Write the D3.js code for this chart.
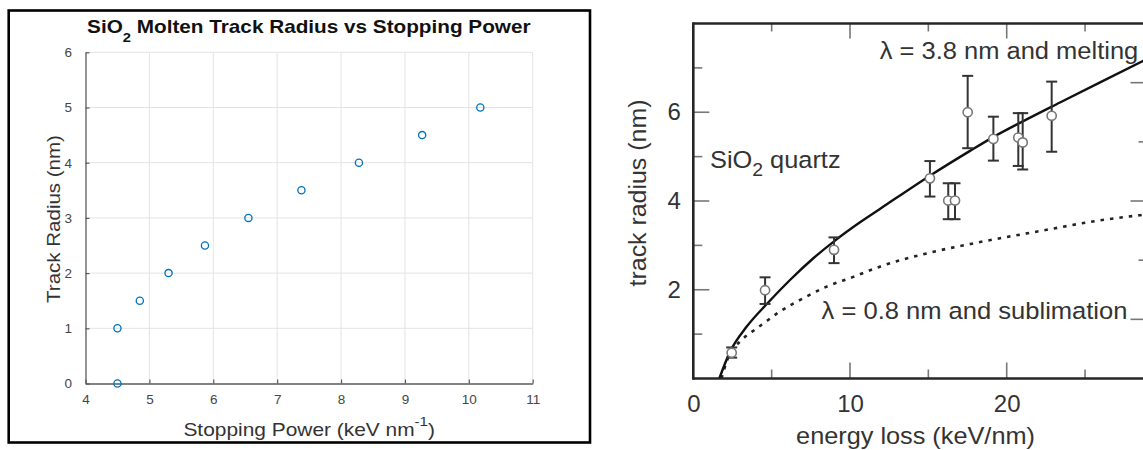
<!DOCTYPE html>
<html><head><meta charset="utf-8">
<script src="https://cdn.jsdelivr.net/npm/d3@7"></script>
<style>
html,body{margin:0;padding:0;background:#fff;}
svg{display:block;font-family:"Liberation Sans",Arial,Helvetica,sans-serif;}
</style></head>
<body>
<svg id="c" width="1143" height="450"></svg>
<script>
// ---------- LEFT PANEL DATA (MATLAB scatter) ----------
const leftStopping = [4.5, 4.5, 4.85, 5.3, 5.87, 6.55, 7.38, 8.28, 9.27, 10.18];
const leftRadius   = [0, 1, 1.5, 2, 2.5, 3, 3.5, 4, 4.5, 5];
const leftXTicks = [4, 5, 6, 7, 8, 9, 10, 11];
const leftYTicks = [0, 1, 2, 3, 4, 5, 6];

// ---------- RIGHT PANEL DATA (scanned figure) ----------
const expEnergy = [2.45, 4.58, 8.98, 15.1, 16.27, 16.7, 17.51, 19.15, 20.74, 21.02, 22.87];
const expRadius = [0.58, 1.99, 2.90, 4.51, 4.01, 4.01, 6.0, 5.40, 5.43, 5.32, 5.92];
const expLow    = [0.47, 1.68, 2.60, 4.10, 3.59, 3.59, 5.19, 4.91, 4.79, 4.71, 5.11];
const expHigh   = [0.70, 2.28, 3.18, 4.90, 4.40, 4.40, 6.82, 5.90, 5.98, 5.98, 6.69];
const meltEnergy = [1.66, 2.34, 3.41, 4.72, 6.17, 7.66, 8.94, 10.64, 11.91, 15.10, 17.66, 19.14, 21.06, 23.4, 28.72, 29.5];
const meltRadius = [0, 0.60, 1.17, 1.69, 2.22, 2.71, 3.08, 3.52, 3.82, 4.57, 5.13, 5.44, 5.80, 6.22, 7.16, 7.30];
const sublEnergy = [1.8, 2.13, 3.09, 3.73, 4.36, 5.53, 7.02, 8.51, 10.21, 11.9, 14.9, 18.09, 22.55, 25.7, 28.5, 29.5];
const sublRadius = [0, 0.38, 0.87, 1.05, 1.21, 1.51, 1.81, 2.07, 2.29, 2.52, 2.82, 3.06, 3.35, 3.55, 3.68, 3.72];
const rightXTicks = [5, 10, 15, 20, 25];
const rightXLabels = [0, 10, 20];
const rightYTicks = [1, 2, 3, 4, 5, 6, 7];
const rightYLabels = [2, 4, 6];
const rightY2Ticks = [1, 2, 3, 4, 5];

const svg = d3.select('#c');
const intFmt = d3.format('d');

function fit(sel, x, y, rot, targetW) {
  const w = sel.node().getComputedTextLength();
  sel.attr('transform', `translate(${x},${y}) rotate(${rot}) scale(${targetW / w},1)`);
}

// ================= LEFT PANEL =================
const L = svg.append('g');
L.append('rect').attr('x', 8.7).attr('y', 10.5).attr('width', 581.3).attr('height', 432)
  .attr('fill', '#fff').attr('stroke', '#000').attr('stroke-width', 2.6);

const xL = d3.scaleLinear().domain([4, 11]).range([85.5, 532.7]);
const yL = d3.scaleLinear().domain([0, 6]).range([383.5, 52.3]);

// grid
L.append('g').selectAll('line').data(leftXTicks.slice(1)).join('line')
  .attr('x1', d => xL(d)).attr('x2', d => xL(d)).attr('y1', yL(0)).attr('y2', yL(6))
  .attr('stroke', '#e3e3e3').attr('stroke-width', 1);
L.append('g').selectAll('line').data(leftYTicks.slice(1)).join('line')
  .attr('y1', d => yL(d)).attr('y2', d => yL(d)).attr('x1', xL(4)).attr('x2', xL(11))
  .attr('stroke', '#e3e3e3').attr('stroke-width', 1);

const axXL = L.append('g').attr('transform', `translate(0,${yL(0)})`)
  .call(d3.axisBottom(xL).tickValues(leftXTicks).tickFormat(intFmt).tickSizeInner(-4).tickSizeOuter(0).tickPadding(11.3));
const axYL = L.append('g').attr('transform', `translate(${xL(4)},0)`)
  .call(d3.axisLeft(yL).tickValues(leftYTicks).tickFormat(intFmt).tickSizeInner(-4).tickSizeOuter(0).tickPadding(13.5));
[axXL, axYL].forEach(a => {
  a.select('.domain').attr('stroke', '#5a5a5a').attr('stroke-width', 1.3);
  a.selectAll('.tick line').attr('stroke', '#5a5a5a').attr('stroke-width', 1.2);
  a.selectAll('.tick text').attr('fill', '#454545').attr('font-size', 13.5)
    .attr('font-family', '"Liberation Sans",Arial,sans-serif');
});

L.append('g').selectAll('circle').data(leftStopping).join('circle')
  .attr('cx', d => xL(d)).attr('cy', (d, i) => yL(leftRadius[i])).attr('r', 3.6)
  .attr('fill', 'none').attr('stroke', '#0072BD').attr('stroke-width', 1.3);

// title
const tL = L.append('text').attr('text-anchor', 'middle').attr('font-weight', 'bold')
  .attr('font-size', 19).attr('fill', '#111');
tL.append('tspan').text('SiO');
tL.append('tspan').attr('font-size', 13.5).attr('dy', 9).text('2');
tL.append('tspan').attr('dy', -9).text(' Molten Track Radius vs Stopping Power');
fit(tL, 308.8, 33.3, 0, 443.6);

// x label
const xlL = L.append('text').attr('text-anchor', 'middle').attr('font-size', 18).attr('fill', '#333');
xlL.append('tspan').text('Stopping Power (keV nm');
xlL.append('tspan').attr('font-size', 13).attr('dy', -10).text('-1');
xlL.append('tspan').attr('dy', 10).text(')');
fit(xlL, 309.2, 436, 0, 251.7);

// y label
const ylL = L.append('text').attr('text-anchor', 'middle').attr('font-size', 18.5).attr('fill', '#333')
  .text('Track Radius (nm)');
fit(ylL, 60, 219, -90, 168);

// ================= RIGHT PANEL =================
const R = svg.append('g');
const xR = d3.scaleLinear().domain([0, 30]).range([693.3, 693.3 + 15.67 * 30]);
const yR = d3.scaleLinear().domain([0, 8]).range([378.5, 23.5]);
const yR2 = d3.scaleLinear().domain([0, 6]).range([378.5, 23.5]);
const rightEdge = 1146.5;

// ticks
const tickCol = '#777';
R.append('g').selectAll('line').data(rightXTicks).join('line')
  .attr('x1', d => xR(d)).attr('x2', d => xR(d)).attr('y1', yR(0))
  .attr('y2', d => yR(0) - (d % 10 === 0 ? 16 : 9)).attr('stroke', tickCol).attr('stroke-width', 1.6);
R.append('g').selectAll('line').data(rightXTicks).join('line')
  .attr('x1', d => xR(d)).attr('x2', d => xR(d)).attr('y1', yR(8))
  .attr('y2', d => yR(8) + (d % 10 === 0 ? 15 : 8)).attr('stroke', tickCol).attr('stroke-width', 1.6);
R.append('g').selectAll('line').data(rightYTicks).join('line')
  .attr('y1', d => yR(d)).attr('y2', d => yR(d)).attr('x1', xR(0))
  .attr('x2', d => xR(0) + (d % 2 === 0 ? 16 : 9)).attr('stroke', tickCol).attr('stroke-width', 1.6);
R.append('g').selectAll('line').data(rightY2Ticks).join('line')
  .attr('y1', d => yR2(d)).attr('y2', d => yR2(d)).attr('x1', rightEdge)
  .attr('x2', d => rightEdge - (d % 2 === 1 ? 16 : 8)).attr('stroke', tickCol).attr('stroke-width', 1.6);

// tick labels
const axXR = R.append('g').attr('transform', `translate(0,${yR(0)})`)
  .call(d3.axisBottom(xR).tickValues(rightXLabels).tickFormat(intFmt).tickSize(0).tickPadding(16));
const axYR = R.append('g').attr('transform', `translate(${xR(0)},0)`)
  .call(d3.axisLeft(yR).tickValues(rightYLabels).tickFormat(intFmt).tickSize(0).tickPadding(12.5));
[axXR, axYR].forEach(a => {
  a.select('.domain').remove();
  a.selectAll('.tick text').attr('fill', '#333').attr('font-size', 24)
    .attr('font-family', '"Liberation Sans",Arial,sans-serif');
});

// curves
const lineGen = d3.line().x(d => xR(d[0])).y(d => yR(d[1])).curve(d3.curveMonotoneX);
R.append('path').datum(sublEnergy.map((e, i) => [e, sublRadius[i]])).attr('d', lineGen)
  .attr('fill', 'none').attr('stroke', '#222').attr('stroke-width', 2.6).attr('stroke-dasharray', '3.5,6');
R.append('path').datum(meltEnergy.map((e, i) => [e, meltRadius[i]])).attr('d', lineGen)
  .attr('fill', 'none').attr('stroke', '#111').attr('stroke-width', 2.4);

// error bars
const eb = R.append('g').attr('stroke', '#333').attr('stroke-width', 2);
eb.selectAll('line.v').data(expEnergy).join('line').attr('class', 'v')
  .attr('x1', d => xR(d)).attr('x2', d => xR(d))
  .attr('y1', (d, i) => yR(expLow[i])).attr('y2', (d, i) => yR(expHigh[i]));
eb.selectAll('line.t').data(expEnergy).join('line').attr('class', 't')
  .attr('x1', d => xR(d) - 5.5).attr('x2', d => xR(d) + 5.5)
  .attr('y1', (d, i) => yR(expHigh[i])).attr('y2', (d, i) => yR(expHigh[i]));
eb.selectAll('line.b').data(expEnergy).join('line').attr('class', 'b')
  .attr('x1', d => xR(d) - 5.5).attr('x2', d => xR(d) + 5.5)
  .attr('y1', (d, i) => yR(expLow[i])).attr('y2', (d, i) => yR(expLow[i]));

R.append('g').selectAll('circle').data(expEnergy).join('circle')
  .attr('cx', d => xR(d)).attr('cy', (d, i) => yR(expRadius[i])).attr('r', 4.6)
  .attr('fill', '#fff').attr('stroke', '#777').attr('stroke-width', 1.6);

// frame
const frame = R.append('g').attr('stroke', '#262626').attr('stroke-width', 2.6).attr('fill', 'none');
frame.append('line').attr('x1', xR(0)).attr('x2', xR(0)).attr('y1', yR(0) + 1.3).attr('y2', yR(8) - 1.3);
frame.append('line').attr('x1', xR(0)).attr('x2', rightEdge).attr('y1', yR(0)).attr('y2', yR(0));
frame.append('line').attr('x1', xR(0)).attr('x2', rightEdge).attr('y1', yR(8)).attr('y2', yR(8));
frame.append('line').attr('x1', rightEdge).attr('x2', rightEdge).attr('y1', yR(0)).attr('y2', yR(8));

// labels
const txtCol = '#333';
const xlR = R.append('text').attr('text-anchor', 'middle').attr('font-size', 24).attr('fill', txtCol)
  .text('energy loss (keV/nm)');
fit(xlR, 915.5, 444, 0, 239);
const ylR = R.append('text').attr('text-anchor', 'middle').attr('font-size', 24).attr('fill', txtCol)
  .text('track radius (nm)');
fit(ylR, 646, 193, -90, 187);

const a1 = R.append('text').attr('text-anchor', 'start').attr('font-size', 23.5).attr('fill', txtCol)
  .text('λ = 3.8 nm and melting');
fit(a1, 879.8, 59.3, 0, 258.6);
const a2 = R.append('text').attr('text-anchor', 'start').attr('font-size', 23.5).attr('fill', txtCol)
  .text('λ = 0.8 nm and sublimation');
fit(a2, 821.6, 319, 0, 306);
const a3 = R.append('text').attr('text-anchor', 'start').attr('font-size', 23.5).attr('fill', txtCol);
a3.append('tspan').text('SiO');
a3.append('tspan').attr('font-size', 18).attr('dy', 7.5).text('2');
a3.append('tspan').attr('dy', -7.5).text(' quartz');
fit(a3, 710, 168.3, 0, 130.6);
</script>
</body></html>
